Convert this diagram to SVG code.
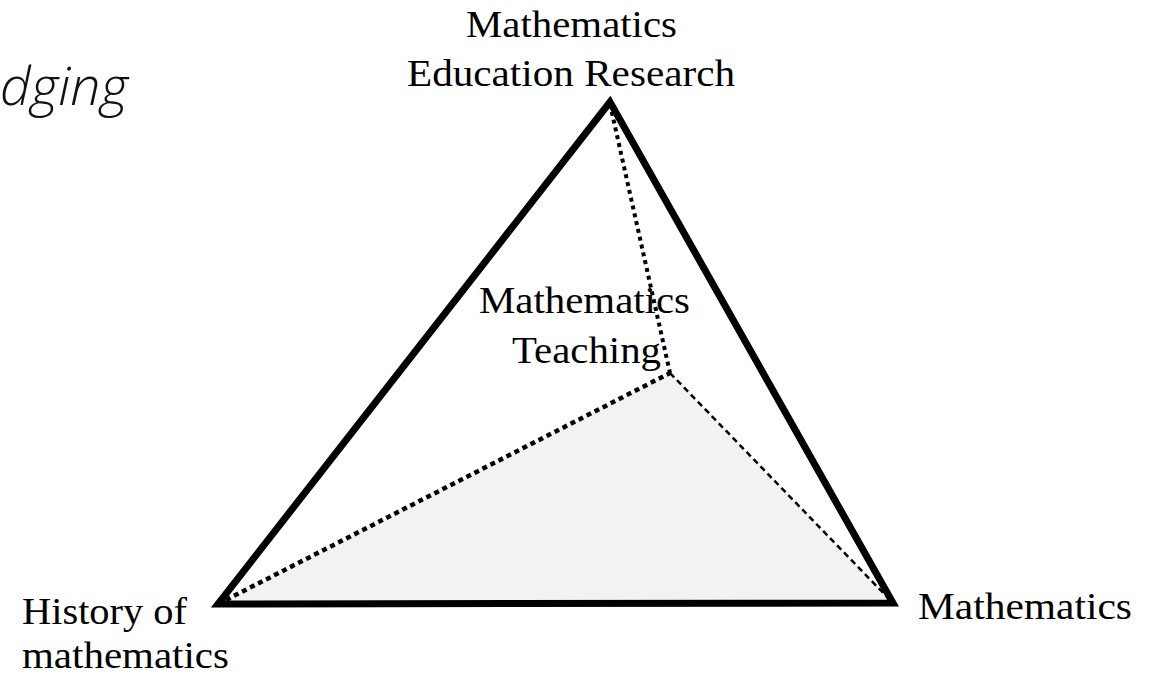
<svg xmlns="http://www.w3.org/2000/svg" width="1160" height="677" viewBox="0 0 1160 677">
<style>
.lbl{font-family:"Liberation Serif","Times New Roman",serif;font-size:37px;fill:#000}
.edge{stroke:#000;fill:none}
</style>
<rect width="1160" height="677" fill="#fff"/>
<text x="0" y="105" font-family="'Open Sans','Noto Sans',sans-serif" font-style="italic" font-weight="300" font-size="54" fill="#111" textLength="128" lengthAdjust="spacingAndGlyphs">dging</text>
<g id="face">
<polygon points="218,604 670,373 893,603" fill="#f2f2f2"/>
</g>
<g id="connectors">
<line class="edge" x1="610" y1="104" x2="670" y2="373" stroke-width="4" stroke-dasharray="4,4"/>
<line class="edge" x1="218" y1="604" x2="670" y2="373" stroke-width="4.5" stroke-dasharray="5,4"/>
<line class="edge" x1="670" y1="373" x2="893" y2="603" stroke-width="2.5" stroke-dasharray="6,4"/>
<polygon class="edge" points="610,102 218,604 893,603" stroke-width="7" stroke-linejoin="miter" stroke-miterlimit="20"/>
</g>
<g id="node-mer">
<text class="lbl" x="466" y="37" textLength="211" lengthAdjust="spacingAndGlyphs">Mathematics</text>
<text class="lbl" x="407" y="86" textLength="328" lengthAdjust="spacingAndGlyphs">Education Research</text>
</g>
<g id="node-teaching">
<text class="lbl" x="479" y="313" textLength="211" lengthAdjust="spacingAndGlyphs">Mathematics</text>
<text class="lbl" x="512" y="363" textLength="149" lengthAdjust="spacingAndGlyphs">Teaching</text>
</g>
<g id="node-history">
<text class="lbl" x="22" y="624" textLength="165" lengthAdjust="spacingAndGlyphs">History of</text>
<text class="lbl" x="22" y="668" textLength="207" lengthAdjust="spacingAndGlyphs">mathematics</text>
</g>
<g id="node-math">
<text class="lbl" x="918" y="619" textLength="214" lengthAdjust="spacingAndGlyphs">Mathematics</text>
</g>
</svg>
